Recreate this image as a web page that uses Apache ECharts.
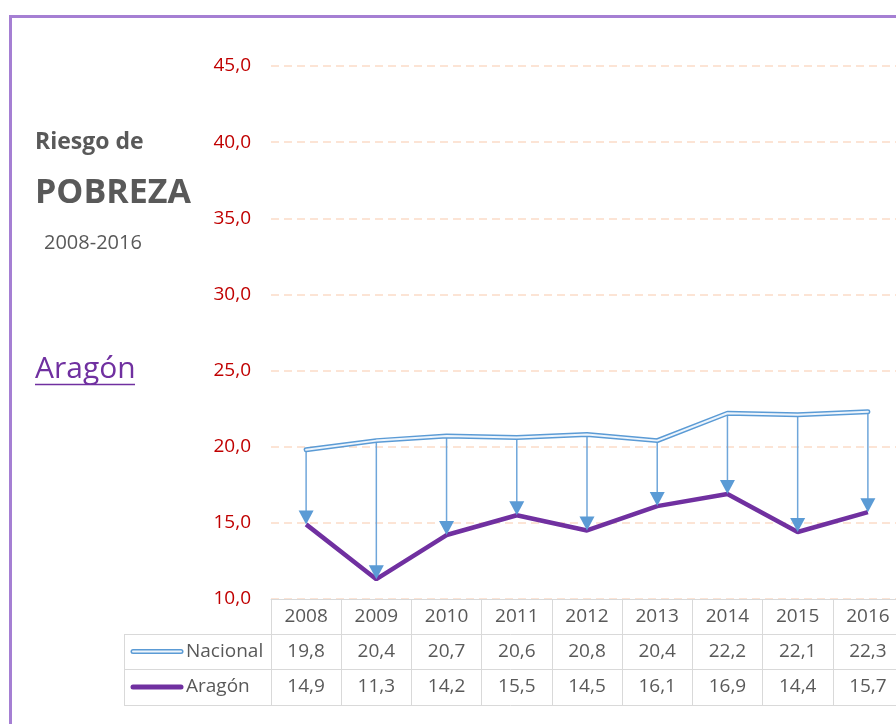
<!DOCTYPE html>
<html>
<head>
<meta charset="utf-8">
<title>Riesgo de pobreza - Aragón</title>
<script src="https://cdn.jsdelivr.net/npm/echarts@6/dist/echarts.min.js"></script>
<style>
  html, body { margin: 0; padding: 0; background: #fff; }
  #chart { width: 896px; height: 724px; }
</style>
</head>
<body>
<div id="chart"></div>
<script>
// data
const years = ['2008', '2009', '2010', '2011', '2012', '2013', '2014', '2015', '2016']
const nacional = [19.8, 20.4, 20.7, 20.6, 20.8, 20.4, 22.2, 22.1, 22.3]
const aragon = [14.9, 11.3, 14.2, 15.5, 14.5, 16.1, 16.9, 14.4, 15.7]
const yTicks = [10, 15, 20, 25, 30, 35, 40, 45]

const FONT = '"Open Sans", "Noto Sans", sans-serif'
const GRAY = '#595959'
const TABLE_LINE = '#d9d9d9'
const BLUE = '#5b9bd5'
const PURPLE = '#7030a0'

const fmt = v => v.toFixed(1).replace('.', ',')

const chart = echarts.init(document.getElementById('chart'), null, { renderer: 'canvas' })

// drop lines with arrow heads, nacional -> aragon
const drops = years.map((y, i) => [i, nacional[i], aragon[i]])

function renderDrop(params, api) {
  const top = api.coord([api.value(0), api.value(1)])
  const bot = api.coord([api.value(0), api.value(2)])
  const hw = 7.5, h = 14
  return {
    type: 'group',
    children: [
      {
        type: 'line',
        shape: { x1: top[0], y1: top[1], x2: bot[0], y2: bot[1] - h + 1 },
        style: { stroke: '#6fa6da', lineWidth: 1.5 }
      },
      {
        type: 'polygon',
        shape: { points: [[bot[0] - hw, bot[1] - h], [bot[0] + hw, bot[1] - h], [bot[0], bot[1]]] },
        style: { fill: BLUE }
      }
    ]
  }
}

const option = {
  backgroundColor: '#fff',
  animation: false,
  textStyle: { fontFamily: FONT },
  grid: { left: 271, top: 66, width: 632, height: 533, outerBoundsMode: 'none', containLabel: false },
  xAxis: {
    type: 'category',
    data: years,
    boundaryGap: true,
    axisLine: { show: true, lineStyle: { color: TABLE_LINE, width: 1 } },
    axisTick: { show: true, interval: 0, length: 107, lineStyle: { color: TABLE_LINE, width: 1 } },
    axisLabel: {
      interval: 0,
      margin: 0,
      color: GRAY,
      fontSize: 19,
      fontFamily: FONT,
      lineHeight: 35,
      formatter: (v, i) => v + '\n' + fmt(nacional[i]) + '\n' + fmt(aragon[i])
    },
    splitLine: { show: false }
  },
  yAxis: {
    type: 'value',
    min: yTicks[0],
    max: yTicks[yTicks.length - 1],
    interval: 5,
    axisLine: { show: false },
    axisTick: { show: false },
    axisLabel: {
      margin: 20,
      color: '#c00000',
      fontSize: 19,
      fontFamily: FONT,
      formatter: v => fmt(v)
    },
    splitLine: {
      show: true,
      lineStyle: { color: '#fbdcc8', width: 1.5, type: [8, 5] }
    }
  },
  series: [
    {
      name: 'Aragón',
      type: 'line',
      data: aragon,
      symbol: 'none',
      lineStyle: { color: PURPLE, width: 4.5 },
      z: 2
    },
    {
      name: 'drops',
      type: 'custom',
      data: drops,
      renderItem: renderDrop,
      z: 3
    },
    {
      name: 'Nacional',
      type: 'line',
      data: nacional,
      symbol: 'none',
      lineStyle: { color: BLUE, width: 5, cap: 'round' },
      z: 4
    },
    {
      name: 'Nacional inner',
      type: 'line',
      data: nacional,
      symbol: 'none',
      lineStyle: { color: '#eef5fc', width: 2, cap: 'round' },
      z: 5
    }
  ],
  graphic: [
    // outer frame
    {
      type: 'rect',
      shape: { x: 10.5, y: 16.5, width: 960, height: 800 },
      style: { fill: null, stroke: '#a57fd3', lineWidth: 3 },
      silent: true
    },
    // titles
    { type: 'text', left: 35, top: 131, style: { text: 'Riesgo de', fill: GRAY, font: 'bold 23px ' + FONT } },
    { type: 'text', left: 35, top: 176, style: { text: 'POBREZA', fill: GRAY, font: 'bold 34px ' + FONT } },
    { type: 'text', left: 44, top: 233, style: { text: '2008-2016', fill: GRAY, font: '20px ' + FONT } },
    { type: 'text', left: 35, top: 354, style: { text: 'Aragón', fill: PURPLE, font: '30px ' + FONT } },
    { type: 'line', shape: { x1: 35, y1: 384.5, x2: 135, y2: 384.5 }, style: { stroke: PURPLE, lineWidth: 1.5 } },
    // table rules
    { type: 'line', shape: { x1: 124, y1: 634.5, x2: 903, y2: 634.5 }, style: { stroke: TABLE_LINE, lineWidth: 1 } },
    { type: 'line', shape: { x1: 124, y1: 669.5, x2: 903, y2: 669.5 }, style: { stroke: TABLE_LINE, lineWidth: 1 } },
    { type: 'line', shape: { x1: 124, y1: 705.5, x2: 903, y2: 705.5 }, style: { stroke: TABLE_LINE, lineWidth: 1 } },
    { type: 'line', shape: { x1: 124.5, y1: 634, x2: 124.5, y2: 706 }, style: { stroke: TABLE_LINE, lineWidth: 1 } },
    // legend keys in table
    { type: 'line', shape: { x1: 133, y1: 651.5, x2: 181, y2: 651.5 }, style: { stroke: BLUE, lineWidth: 5, lineCap: 'round' } },
    { type: 'line', shape: { x1: 133, y1: 651.5, x2: 181, y2: 651.5 }, style: { stroke: '#eef5fc', lineWidth: 2, lineCap: 'round' } },
    { type: 'text', left: 186, top: 642, style: { text: 'Nacional', fill: GRAY, font: '19px ' + FONT } },
    { type: 'line', shape: { x1: 133, y1: 687, x2: 181, y2: 687 }, style: { stroke: PURPLE, lineWidth: 5, lineCap: 'round' } },
    { type: 'text', left: 186, top: 677, style: { text: 'Aragón', fill: GRAY, font: '19px ' + FONT } }
  ]
}

chart.setOption(option)
</script>
</body>
</html>
